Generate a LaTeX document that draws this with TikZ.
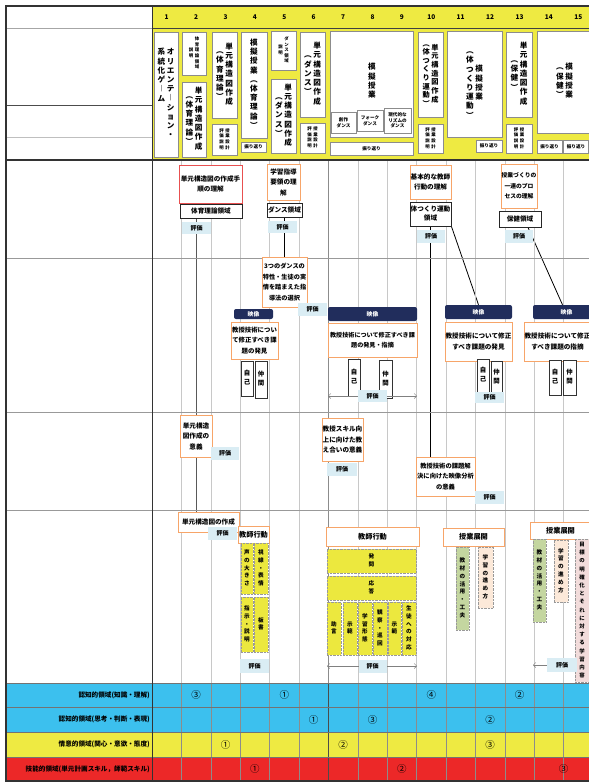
\documentclass[tikz,border=0pt]{standalone}
\usepackage{fontspec}
\setmainfont{Noto Sans CJK JP}
\usetikzlibrary{arrows.meta,backgrounds}

\definecolor{hdyel}{RGB}{238,234,66}
\definecolor{rowblue}{RGB}{60,192,238}
\definecolor{rowred}{RGB}{236,40,40}
\definecolor{obord}{RGB}{247,165,105}
\definecolor{rbord}{RGB}{232,80,80}
\definecolor{evfill}{RGB}{218,237,244}
\definecolor{navy}{RGB}{33,45,92}
\definecolor{ybox}{RGB}{236,232,62}
\definecolor{gbox}{RGB}{196,214,160}
\definecolor{pbox}{RGB}{252,233,217}
\definecolor{kbox}{RGB}{242,220,219}
\definecolor{gridc}{RGB}{200,200,200}

\newcommand\fs[2]{\fontsize{#1}{#2}\selectfont\bfseries}

% vertical (top to bottom) text
\ExplSyntaxOn
\seq_new:N \l_vt_seq
\NewDocumentCommand \vt { O{c} m }
  {
    \seq_clear:N \l_vt_seq
    \tl_map_inline:nn {#2} { \seq_put_right:Nn \l_vt_seq {##1} }
    \begin{tabular}[#1]{@{}c@{}} \seq_use:Nn \l_vt_seq { \\ } \end{tabular}
  }
\NewDocumentCommand \vtt { O{c} m m }
  { \vt[#1]{#3} \hspace{1.5pt} \vt[#1]{#2} }
\ExplSyntaxOff

\begin{document}
\begin{tikzpicture}[x=1pt,y=-1pt,
  sz/.style 2 args={minimum width=#1pt,minimum height=#2pt},
  hbox/.style={draw=black!45,fill=white,line width=0.7pt,inner sep=0pt,font=\fs{7.6}{9.2}},
  tinyt/.style={font=\fs{4.4}{5.6}},
  flat/.style={font=\fs{4.6}{5.6},align=center},
  obox/.style={draw=obord,fill=white,line width=0.9pt,inner sep=0pt,align=center,font=\fs{6.6}{10.5}},
  rbox/.style={obox,draw=rbord},
  kbox/.style={draw=black!85,fill=white,line width=0.9pt,inner sep=0pt,align=center,font=\fs{6.6}{9}},
  evbox/.style={fill=evfill,inner sep=0pt,sz={29}{12},font=\fs{6}{6.5}},
  navbox/.style={fill=navy,rounded corners=2pt,text=white,inner sep=0pt,font=\fs{5.8}{6.5}},
  sbox/.style={draw=black!80,fill=white,line width=0.8pt,inner sep=0pt,font=\fs{6.4}{9}},
  ylw/.style={fill=ybox,draw=black!40,densely dotted,line width=0.4pt,inner sep=0pt,font=\fs{5.6}{7.8}},
  grn/.style={ylw,fill=gbox},
  pch/.style={ylw,fill=pbox},
  pnk/.style={ylw,fill=kbox},
  dual/.style={<->,>={Straight Barb[length=2.5pt]},black!50,line width=0.5pt},
  rowlab/.style={anchor=east,inner sep=1pt,font=\fs{6.6}{7}},
  cnum/.style={inner sep=0pt,font=\fontsize{9.5}{10}\selectfont},
]
\useasboundingbox (0,0) rectangle (589,782);
\clip (0,0) rectangle (589,782);

% bands
\fill[hdyel] (152,6) rectangle (600,160);
\fill[rowblue] (6,683) rectangle (600,732);
\fill[hdyel] (6,732) rectangle (600,757);
\fill[rowred] (6,757) rectangle (600,781);

% grid
\foreach \k in {1,...,14}
  \draw[gridc,line width=0.5pt] ({152+29.4*\k},160) -- ({152+29.4*\k},683);
\draw[black!45,line width=0.7pt] (328.4,160) -- (328.4,683);
\foreach \k in {1,...,14}
  \draw[black!45,line width=0.4pt] ({152+29.4*\k},683) -- ({152+29.4*\k},781);
\draw[black!70,line width=0.8pt] (328.4,683) -- (328.4,781);
\foreach \y in {258,412,510}
  \draw[black!40,line width=0.6pt] (6,\y) -- (600,\y);
\foreach \y in {683,707,732,757}
  \draw[black!55,line width=0.5pt] (6,\y) -- (600,\y);
\draw[black!35,line width=0.5pt] (6,28) -- (152,28);
\draw[black!70,line width=1pt] (6,105) -- (152,105);
\draw[black!25,line width=0.5pt] (6,137) -- (152,137);
\draw[black!75,line width=0.8pt] (152,28) -- (600,28);
\draw[black!80,line width=1.2pt] (6,160) -- (600,160);
\draw[black!80,line width=1.2pt] (600,6) -- (6,6) -- (6,781) -- (600,781);
\draw[black!80,line width=1pt] (152,6) -- (152,781);

% column numbers
\foreach \k in {1,...,15}
  \node[font=\fs{6.5}{7}] (num\k) at ({152+29.4*(\k-0.5)},17) {\k};

% header boxes
\node[hbox,sz={24}{125}] (h1) at (166,94.5) {\vtt[t]{オリエンテ︱ション・}{系統化ゲ︱ム}};
\node[hbox,tinyt,sz={24}{43}] (h2a) at (194,53.5) {\vtt{体育理論領域}{説明}};
\node[hbox,sz={24}{75}] (h2b) at (194,119.5) {\vtt{単元構造図作成}{︵体育理論︶}};
\node[hbox,sz={25}{86}] (h3a) at (224.5,75) {\vtt{単元構造図作成}{︵体育理論︶}};
\node[hbox,tinyt,sz={25}{31}] (h3b) at (224.5,139.5) {\vtt{授業設計}{評価説明}};
\node[hbox,sz={26}{106}] (h4a) at (254,85) {\vt{模擬授業︵体育理論︶}};
\node[hbox,flat,sz={25}{10}] (h4b) at (253.5,147) {振り返り};
\node[hbox,tinyt,sz={25}{39}] (h5a) at (283.5,50.5) {\vtt{ダンス領域}{説明}};
\node[hbox,sz={25}{74}] (h5b) at (283.5,116) {\vtt{単元構造図作成}{︵ダンス︶}};
\node[hbox,sz={25}{85}] (h6a) at (312.5,74.5) {\vtt{単元構造図作成}{︵ダンス︶}};
\node[hbox,tinyt,sz={25}{30}] (h6b) at (312.5,138) {\vtt{授業設計}{評価説明}};
\node[hbox,sz={83}{106}] (h7) at (371.5,84) {};
\node[font=\fs{7.6}{9.2}] (h7t) at (372,82) {\vt{模擬授業}};
\node[hbox,flat,sz={25}{21}] (h7a) at (343.5,122.5) {創作\\ダンス};
\node[hbox,flat,sz={26}{21}] (h7b) at (370,120.5) {フォーク\\ダンス};
\node[hbox,flat,sz={27}{25}] (h7c) at (397.5,120.5) {現代的な\\リズムの\\ダンス};
\node[hbox,flat,sz={83}{13}] (h7d) at (371.5,148.5) {振り返り};
\node[hbox,font=\fs{7.2}{8.6},sz={25}{85}] (h10a) at (430.5,74.5) {\vtt{単元構造図作成}{︵体つくり運動︶}};
\node[hbox,tinyt,sz={25}{29}] (h10b) at (430.5,138.5) {\vtt{授業設計}{評価説明}};
\node[hbox,sz={55}{106}] (h11) at (474.5,84) {\vtt{模擬授業}{︵体つくり運動︶}};
\node[hbox,flat,sz={26}{12}] (h11b) at (489,146) {振り返り};
\node[hbox,sz={26}{85}] (h13a) at (519,74.5) {\vtt{単元構造図作成}{︵保健︶}};
\node[hbox,tinyt,sz={26}{29}] (h13b) at (519,138.5) {\vtt{授業設計}{評価説明}};
\node[hbox,sz={55}{102}] (h14) at (564.5,82) {\vtt{模擬授業}{︵保健︶}};
\node[hbox,flat,sz={25}{13}] (h14b) at (549.5,146.5) {振り返り};
\node[hbox,flat,sz={25}{13}] (h15b) at (576,146.5) {振り返り};

% first row
\node[rbox,sz={63}{38}] (a1) at (210.5,184) {単元構造図の作成手\\順の理解};
\node[kbox,sz={62}{14}] (a2) at (211,211) {体育理論領域};
\node[evbox] (e1) at (196.5,228) {評価};
\node[obox,sz={33}{36}] (a3) at (283.5,182) {学習指導\\要領の理\\解};
\node[kbox,sz={35}{14}] (a4) at (284.5,210) {ダンス領域};
\node[evbox] (e2) at (282.5,227) {評価};
\node[obox,sz={41}{34}] (a5) at (430.5,182) {基本的な教師\\行動の理解};
\node[kbox,sz={41}{24}] (a6) at (430.5,214) {体つくり運動\\領域};
\node[evbox,sz={28}{13}] (e3) at (431,236.5) {評価};
\node[obox,font=\fs{5.8}{10.5},sz={36}{44}] (a7) at (519,186) {授業づくりの\\一連のプロ\\セスの理解};
\node[kbox,sz={42}{16}] (a8) at (520,219) {保健領域};
\node[evbox,sz={28}{13}] (e4) at (519,236.5) {評価};

% second row
\node[obox,font=\fs{6.2}{10.5},sz={45}{50}] (b1) at (284.5,282) {3つのダンスの\\特性・生徒の実\\情を踏まえた指\\導法の選択};
\node[evbox,sz={29}{13}] (e5) at (312.5,309.5) {評価};
\node[navbox,sz={39}{10}] (v1) at (253.5,314) {映像};
\node[obox,font=\fs{6.4}{10.5},sz={47}{37}] (b2) at (254.5,340.5) {教授技術につい\\て修正すべき課\\題の発見};
\node[sbox,sz={12}{35}] (s1) at (247,378.5) {\vt{自己}};
\node[sbox,sz={12}{37}] (s2) at (261,379.5) {\vt{仲間}};
\node[navbox,sz={89}{14}] (v2) at (372.5,314) {映像};
\node[obox,font=\fs{6.1}{10.5},sz={89}{34}] (b3) at (372.5,340) {教授技術について修正すべき課\\題の発見・指摘};
\node[sbox,sz={12}{37}] (s3) at (354,377.5) {\vt{自己}};
\node[sbox,sz={13}{38}] (s4) at (385.5,379) {\vt{仲間}};
\coordinate (w1l) at (328,396);
\coordinate (w1r) at (417,396);
\draw[dual] (w1l) -- (w1r);
\node[evbox] (e6) at (372.5,396) {評価};
\node[navbox,sz={67}{14}] (v3) at (478.5,312) {映像};
\node[obox,sz={67}{39}] (b4) at (478.5,341.5) {教授技術について修正\\すべき課題の発見};
\node[sbox,sz={12}{33}] (s5) at (483,375.5) {\vt{自己}};
\node[sbox,sz={11}{32}] (s6) at (496.5,377) {\vt{仲間}};
\node[evbox,sz={29}{11}] (e7) at (489.5,397.5) {評価};
\node[navbox,sz={67}{14}] (v4) at (566.5,312) {映像};
\node[obox,sz={67}{39}] (b5) at (557.5,341.5) {教授技術について修正\\すべき課題の指摘};
\node[sbox,sz={12}{35}] (s7) at (555,377.5) {\vt{自己}};
\node[sbox,sz={13}{35}] (s8) at (569.5,377.5) {\vt{仲間}};

% third row
\node[obox,sz={32}{42}] (c1) at (196,436) {単元構造\\図作成の\\意義};
\node[evbox,sz={28}{13}] (e8) at (225,453.5) {評価};
\node[obox,sz={41}{43}] (c2) at (342.5,439.5) {教授スキル向\\上に向けた教\\え合いの意義};
\node[evbox,sz={30}{13}] (e9) at (342,469.5) {評価};
\node[obox,font=\fs{6.3}{10.5},sz={59}{39}] (c3) at (445.5,476.5) {教授技術の課題解\\決に向けた映像分析\\の意義};
\node[evbox,sz={29}{13}] (e10) at (489.5,497.5) {評価};

% fourth row
\node[obox,sz={61}{20}] (d1) at (208.5,522) {単元構造図の作成};
\node[evbox,sz={29}{13}] (e11) at (222.5,533.5) {評価};
\node[obox,font=\fs{7.2}{8},sz={31}{17}] (d2) at (253.5,534.5) {教師行動};
\node[ylw,sz={12}{51}] (y1) at (247,568.5) {\vt{声の大きさ}};
\node[ylw,sz={14}{51}] (y2) at (261,568.5) {\vt{視線・表情}};
\node[ylw,sz={12}{55}] (y3) at (247,624.5) {\vt{指示・説明}};
\node[ylw,sz={14}{55}] (y4) at (261,624.5) {\vt{板書}};
\node[evbox,sz={29}{14}] (e12) at (254.5,666) {評価};
\node[obox,font=\fs{7.2}{8},sz={93}{19}] (d3) at (372.5,536.5) {教師行動};
\node[ylw,sz={89}{24}] (y5) at (371.5,561) {\vt{発問}};
\node[ylw,sz={89}{24}] (y6) at (371.5,588) {\vt{応答}};
\node[ylw,sz={14}{53}] (y7) at (334,628.5) {\vt{助言}};
\node[ylw,sz={14}{53}] (y8) at (350,628.5) {\vt{示範}};
\node[ylw,sz={14}{53}] (y9) at (365,628.5) {\vt{学習形態}};
\node[ylw,sz={14}{53}] (y10) at (380,628.5) {\vt{観察・巡回}};
\node[ylw,sz={13}{53}] (y11) at (394.5,628.5) {\vt{示範}};
\node[ylw,sz={14}{53}] (y12) at (409,628.5) {\vt{生徒への対応}};
\coordinate (w2l) at (327,666);
\coordinate (w2r) at (417,666);
\draw[dual] (w2l) -- (w2r);
\node[evbox,sz={28}{13}] (e13) at (372.5,666) {評価};
\node[obox,font=\fs{7.2}{8},sz={61}{18}] (d4) at (473.5,537) {授業展開};
\node[grn,sz={13}{83}] (g1) at (462.5,588.5) {\vt{教材の活用・工夫}};
\node[pch,sz={15}{61}] (p1) at (485.5,577.5) {\vt{学習の進め方}};
\node[obox,font=\fs{7.2}{8},sz={61}{17}] (d5) at (560.5,530.5) {授業展開};
\node[grn,sz={13}{83}] (g2) at (539.5,580.5) {\vt{教材の活用・工夫}};
\node[pch,sz={14}{62}] (p2) at (561,571) {\vt{学習の進め方}};
\coordinate (w3l) at (533,665);
\coordinate (w3r) at (582,665);
\draw[dual] (w3l) -- (w3r);
\node[pnk,sz={14}{143},font=\fs{5.4}{8.2}] (k1) at (582,610.5) {\vt{目標の明確化とそれに対する学習内容}};
\node[evbox,sz={30}{14}] (e14) at (562,665) {評価};

% connectors
\begin{pgfonlayer}{background}
  \fill[white] (0,0) rectangle (589,782);
  \draw[black!65,line width=1.3pt] (a2.south -| e1.center) -- (d1.north -| e1.center);
  \draw[black,line width=0.8pt] (a4.south) -- (b1.north);
  \draw[black,line width=0.8pt] (a6.south) -- (c3.north -| a6.south);
  \draw[black,line width=0.8pt] (a6.south east) -- (v3.north);
  \draw[black,line width=0.8pt] ([xshift=8pt]a8.south) -- ([xshift=-4pt]v4.north);
\end{pgfonlayer}

% bottom rows
\node[rowlab] (L1) at (151,695) {認知的領域(知識・理解)};
\node[rowlab] (L2) at (151,719.5) {認知的領域(思考・判断・表現)};
\node[rowlab] (L3) at (151,744.5) {情意的領域(関心・意欲・態度)};
\node[rowlab] (L4) at (151,769) {技能的領域(単元計画スキル，師範スキル)};
\node[cnum] (r1a) at (196.1,695) {③};
\node[cnum] (r1b) at (284.3,695) {①};
\node[cnum] (r1c) at (431.3,695) {④};
\node[cnum] (r1d) at (519.5,695) {②};
\node[cnum] (r2a) at (313.7,719.5) {①};
\node[cnum] (r2b) at (372.5,719.5) {③};
\node[cnum] (r2c) at (490.1,719.5) {②};
\node[cnum] (r3a) at (225.5,744.5) {①};
\node[cnum] (r3b) at (343.1,744.5) {②};
\node[cnum] (r3c) at (490.1,744.5) {③};
\node[cnum] (r4a) at (254.9,769) {①};
\node[cnum] (r4b) at (401.9,769) {②};
\node[cnum] (r4c) at (563.6,769) {③};
\end{tikzpicture}
\end{document}
